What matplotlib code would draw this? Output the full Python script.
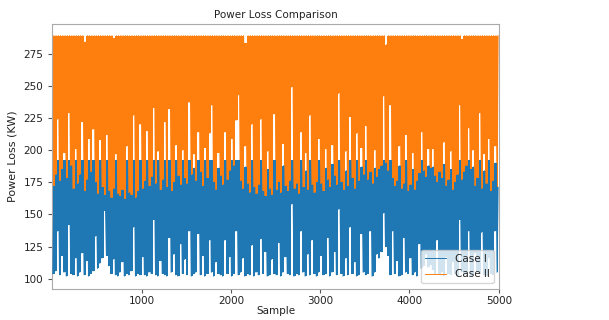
import matplotlib.pyplot as plt
import numpy as np

block = 25
n_blocks = 200

case1_low = [
    104, 106, 137, 103, 118, 105, 102, 142, 104, 103, 116, 102, 105, 120, 103, 114, 102, 104, 106, 133,
    108, 112, 116, 153, 118, 110, 104, 115, 103, 102, 105, 113, 102, 104, 103, 106, 140, 102, 104, 103,
    117, 103, 102, 105, 104, 146, 103, 102, 114, 104, 103, 102, 132, 105, 119, 103, 102, 127, 104, 115,
    103, 137, 102, 104, 105, 135, 103, 118, 102, 104, 130, 105, 102, 113, 104, 103, 102, 130, 104, 117,
    102, 104, 137, 103, 105, 116, 102, 104, 103, 126, 102, 105, 103, 131, 104, 121, 102, 103, 115, 104,
    103, 128, 102, 105, 117, 104, 103, 158, 102, 104, 103, 137, 105, 102, 119, 103, 130, 104, 102, 105,
    118, 103, 104, 132, 102, 105, 121, 103, 154, 104, 102, 116, 103, 140, 104, 113, 102, 103, 135, 105,
    103, 104, 137, 102, 105, 119, 116, 121, 151, 125, 118, 103, 137, 104, 114, 102, 103, 132, 105, 104,
    116, 103, 105, 102, 127, 108, 110, 119, 109, 111, 107, 104, 130, 103, 105, 102, 117, 104, 103, 113,
    104, 102, 146, 105, 103, 104, 137, 102, 103, 120, 105, 104, 136, 103, 102, 116, 104, 103, 137, 105,
]
case1_high = [
    172, 181, 192, 176, 185, 192, 178, 192, 188, 170, 192, 174, 181, 192, 168, 177, 192, 183, 192, 175,
    166, 192, 171, 165, 192, 168, 163, 170, 192, 166, 164, 169, 162, 192, 167, 165, 192, 163, 168, 192,
    170, 176, 192, 172, 179, 192, 174, 192, 169, 177, 192, 171, 192, 168, 175, 192, 180, 173, 192, 178,
    174, 192, 181, 186, 176, 192, 183, 172, 192, 178, 192, 192, 175, 169, 186, 180, 173, 192, 177, 184,
    192, 188, 192, 192, 176, 170, 187, 174, 167, 192, 171, 166, 173, 192, 168, 164, 185, 170, 165, 192,
    169, 175, 167, 188, 172, 168, 176, 192, 170, 174, 166, 192, 171, 184, 169, 192, 173, 167, 175, 192,
    174, 168, 186, 177, 171, 189, 180, 173, 192, 175, 169, 184, 172, 192, 178, 170, 192, 176, 187, 181,
    192, 177, 183, 174, 186, 179, 185, 188, 192, 190, 184, 192, 178, 172, 176, 188, 170, 174, 192, 168,
    173, 185, 169, 176, 182, 192, 184, 179, 188, 186, 187, 180, 175, 183, 178, 189, 172, 177, 185, 169,
    175, 181, 192, 177, 183, 188, 192, 185, 187, 172, 178, 192, 170, 184, 174, 192, 168, 176, 190, 171,
]
case2_low = [
    160, 160, 224, 160, 160, 198, 160, 229, 160, 160, 201, 160, 160, 222, 160, 160, 209, 160, 216, 160,
    160, 208, 160, 160, 212, 160, 160, 160, 197, 160, 160, 160, 160, 203, 160, 160, 227, 160, 160, 220,
    160, 160, 215, 160, 160, 233, 160, 199, 160, 160, 222, 160, 232, 160, 160, 204, 160, 160, 200, 160,
    160, 237, 160, 197, 160, 214, 160, 160, 202, 160, 213, 235, 160, 160, 198, 160, 160, 214, 160, 160,
    209, 160, 223, 243, 160, 160, 203, 160, 160, 220, 160, 160, 160, 224, 160, 160, 199, 160, 160, 228,
    160, 160, 160, 205, 160, 160, 160, 249, 160, 160, 160, 214, 160, 198, 160, 227, 160, 160, 160, 209,
    160, 160, 201, 160, 160, 204, 160, 160, 244, 160, 160, 199, 160, 226, 160, 160, 213, 160, 202, 160,
    219, 160, 160, 160, 200, 160, 160, 160, 242, 160, 160, 235, 160, 160, 160, 203, 160, 160, 212, 160,
    160, 198, 160, 160, 160, 214, 160, 160, 201, 160, 201, 160, 160, 160, 160, 206, 160, 160, 199, 160,
    160, 160, 235, 160, 160, 160, 217, 160, 200, 160, 160, 229, 160, 197, 160, 209, 160, 160, 203, 160,
]
case2_high = [289] * n_blocks
case2_dips = {14: 284, 27: 287, 86: 283, 149: 282, 183: 286}
for k, v in case2_dips.items():
    case2_high[k] = v

start = np.arange(n_blocks) * block
mid = start + block / 2
x = np.column_stack([start + 6, start + 18]).ravel()
y1 = np.column_stack([case1_low, case1_high]).ravel()
y2 = np.column_stack([case2_low, case2_high]).ravel()

plt.rcParams['font.size'] = 7.5
plt.rcParams['text.color'] = '#222222'
plt.rcParams['axes.labelcolor'] = '#222222'
plt.rcParams['xtick.color'] = '#555555'
plt.rcParams['ytick.color'] = '#555555'
plt.rcParams['xtick.labelcolor'] = '#222222'
plt.rcParams['ytick.labelcolor'] = '#222222'
plt.rcParams['xtick.major.size'] = 3
plt.rcParams['ytick.major.size'] = 3
plt.rcParams['xtick.major.pad'] = 2.5

fig, ax = plt.subplots(figsize=(6.09, 3.2), dpi=100)
fig.subplots_adjust(left=0.086, right=0.819, top=0.925, bottom=0.098)

blue, orange = '#1f77b4', '#ff7f0e'
# dense line: body of each block filled, zigzag line on top for the ragged edges
ax.fill_between(mid, case1_low, case1_high, step='mid', color=blue, linewidth=0, zorder=3)
ax.fill_between(mid, case2_low, case2_high, step='mid', color=orange, linewidth=0, zorder=2)
ax.plot(x, y1, color=blue, linewidth=0.7, label='Case I', zorder=3)
ax.plot(x, y2, color=orange, linewidth=0.7, label='Case II', zorder=2)

ax.set_xlim(1, 5000)
ax.set_ylim(92.3, 298)
ax.set_yticks([100, 125, 150, 175, 200, 225, 250, 275])
ax.set_xticks([1000, 2000, 3000, 4000, 5000])
for s in ax.spines.values():
    s.set_color('#aaaaaa')

ax.set_title('Power Loss Comparison', fontsize=7.5, pad=4)
ax.set_xlabel('Sample', labelpad=0)
ax.set_ylabel('Power Loss (KW)', fontsize=8)
ax.legend(loc='lower right', fontsize=7.5)

plt.savefig('out.png', dpi=100)
